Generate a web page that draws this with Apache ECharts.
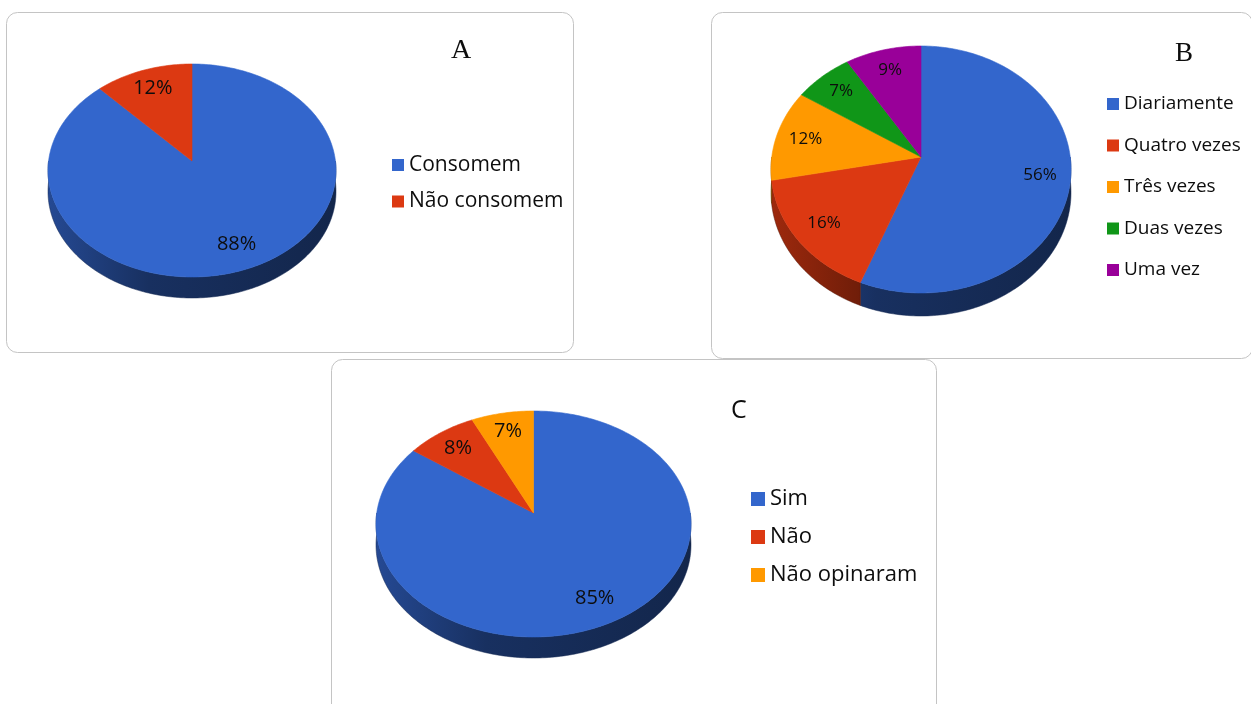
<!DOCTYPE html>
<html>
<head>
<meta charset="utf-8">
<script src="https://cdn.jsdelivr.net/npm/echarts@6/dist/echarts.min.js"></script>
<style>
  html, body { margin: 0; padding: 0; background: #ffffff; }
  #chart { width: 1251px; height: 704px; }
</style>
</head>
<body>
<div id="chart"></div>
<script>
// Gráfico A – consumo
const categoriasA = ['Consomem', 'Não consomem'];
const valoresA = [88, 12];

// Gráfico B – frequência de consumo
const categoriasB = ['Diariamente', 'Quatro vezes', 'Três vezes', 'Duas vezes', 'Uma vez'];
const valoresB = [56, 16, 12, 7, 9];

// Gráfico C – opinião
const categoriasC = ['Sim', 'Não', 'Não opinaram'];
const valoresC = [85, 8, 7];

const titulos = ['A', 'B', 'C'];

// Palette and layout of each 3D-looking pie
const paleta = ['#3366cc', '#dc3912', '#ff9900', '#109618', '#990099'];
const textColor = '#0d0d0d';

const layoutA = { cx: 192, cy: 161, halfW: 144, ryTop: 97, ryBot: 116, depth: 21, labelR: 0.79, labelSize: 20 };
const layoutB = { cx: 921, cy: 157, halfW: 150, ryTop: 111, ryBot: 136, depth: 23, labelR: 0.80, labelSize: 17 };
const layoutC = { cx: 533.5, cy: 513, halfW: 157.5, ryTop: 102, ryBot: 124, depth: 21, labelR: 0.80, labelSize: 20 };

function prepare(L) {
  const p = (L.ryBot - L.ryTop) / (L.ryBot + L.ryTop);
  return Object.assign({}, L, { p: p, rx: L.halfW * Math.sqrt(1 - p * p), ry: L.ryTop * (1 + p) });
}

// Perspective projection of a point of the tilted disc (theta clockwise from 12 o'clock)
function project(L, theta, r, drop) {
  const u = Math.sin(theta) * r;
  const v = -Math.cos(theta) * r;
  const s = 1 / (1 - L.p * v);
  return [L.cx + L.rx * u * s, L.cy + L.ry * v * s + (drop || 0)];
}

function shade(hex, f) {
  const n = parseInt(hex.slice(1), 16);
  const r = Math.round(((n >> 16) & 255) * f);
  const g = Math.round(((n >> 8) & 255) * f);
  const b = Math.round((n & 255) * f);
  return 'rgb(' + r + ',' + g + ',' + b + ')';
}

function arcPoints(L, a0, a1, drop) {
  const pts = [];
  const steps = Math.max(2, Math.ceil((a1 - a0) / (Math.PI / 180)));
  for (let k = 0; k <= steps; k++) {
    pts.push(project(L, a0 + (a1 - a0) * k / steps, 1, drop));
  }
  return pts;
}

function renderSlice(L, color, total) {
  return function (params, api) {
    const value = api.value(0);
    const a0 = api.value(1) / total * Math.PI * 2;
    const a1 = api.value(2) / total * Math.PI * 2;
    const children = [];

    // visible side wall (front half of the disc)
    const w0 = Math.max(a0, Math.PI / 2);
    const w1 = Math.min(a1, Math.PI * 3 / 2);
    if (w1 > w0) {
      const top = arcPoints(L, w0, w1, 0);
      const bottom = arcPoints(L, w0, w1, L.depth).reverse();
      children.push({
        type: 'polygon',
        z2: 1,
        shape: { points: top.concat(bottom) },
        style: {
          fill: {
            type: 'linear', global: true,
            x: L.cx - L.halfW, y: 0, x2: L.cx + L.halfW, y2: 0,
            colorStops: [
              { offset: 0, color: shade(color, 0.72) },
              { offset: 0.35, color: shade(color, 0.47) },
              { offset: 1, color: shade(color, 0.37) }
            ]
          },
          stroke: shade(color, 0.4),
          lineWidth: 0.5
        }
      });
    }

    // top face
    const face = [[L.cx, L.cy]].concat(arcPoints(L, a0, a1, 0));
    children.push({
      type: 'polygon',
      z2: 5,
      shape: { points: face },
      style: { fill: color, stroke: color, lineWidth: 0.6 }
    });

    // percentage label
    const mid = (a0 + a1) / 2;
    const pos = project(L, mid, L.labelR, 0);
    children.push({
      type: 'text',
      z2: 10,
      x: pos[0],
      y: pos[1],
      style: {
        text: Math.round(value / total * 100) + '%',
        fill: textColor,
        font: L.labelSize + 'px "Open Sans", "Noto Sans", sans-serif',
        align: 'center',
        verticalAlign: 'middle'
      }
    });
    return { type: 'group', children: children };
  };
}

function pieSeries(nomes, valores, layout) {
  const L = prepare(layout);
  const total = valores.reduce((a, b) => a + b, 0);
  let acc = 0;
  return nomes.map((nome, i) => {
    const ini = acc;
    acc += valores[i];
    return {
      type: 'custom',
      name: nome,
      coordinateSystem: 'none',
      color: paleta[i],
      silent: true,
      data: [[valores[i], ini, acc]],
      renderItem: renderSlice(L, paleta[i], total)
    };
  });
}

function legend(nomes, left, top, iconSize, fontSize, lineHeight, gap) {
  return {
    data: nomes,
    orient: 'vertical',
    left: left,
    top: top,
    icon: 'rect',
    itemWidth: iconSize,
    itemHeight: iconSize,
    itemGap: gap,
    selectedMode: false,
    textStyle: {
      color: textColor,
      fontFamily: '"Open Sans", "Noto Sans", sans-serif',
      fontSize: fontSize,
      lineHeight: lineHeight
    }
  };
}

function panel(x, y, w, h) {
  return {
    type: 'rect',
    shape: { x: x, y: y, width: w, height: h, r: 11 },
    style: { fill: 'none', stroke: '#c4c4c4', lineWidth: 1 },
    silent: true,
    z: 0
  };
}

const chart = echarts.init(document.getElementById('chart'), null, { renderer: 'canvas' });

const serifTitle = { fontFamily: '"Liberation Serif", "DejaVu Serif", serif', fontWeight: 'normal', color: textColor };

chart.setOption({
  animation: false,
  backgroundColor: '#ffffff',
  title: [
    { text: titulos[0], left: 446, top: 32, textStyle: Object.assign({ fontSize: 28 }, serifTitle) },
    { text: titulos[1], left: 1170, top: 35, textStyle: Object.assign({ fontSize: 27 }, serifTitle) },
    { text: titulos[2], left: 726, top: 393, textStyle: { fontFamily: '"Open Sans", "Noto Sans", sans-serif', fontSize: 25, fontWeight: 'normal', color: textColor } }
  ],
  legend: [
    legend(categoriasA, 387, 148, 12, 21, 24, 12.5),
    legend(categoriasB, 1102, 87, 12, 19, 24, 17.5),
    legend(categoriasC, 746, 481, 14, 22, 26, 12)
  ],
  graphic: [
    panel(6.5, 12.5, 567, 340),
    panel(711.5, 12.5, 541, 346),
    panel(331.5, 359.5, 605, 360)
  ],
  series: []
    .concat(pieSeries(categoriasA, valoresA, layoutA))
    .concat(pieSeries(categoriasB, valoresB, layoutB))
    .concat(pieSeries(categoriasC, valoresC, layoutC))
});
</script>
</body>
</html>
